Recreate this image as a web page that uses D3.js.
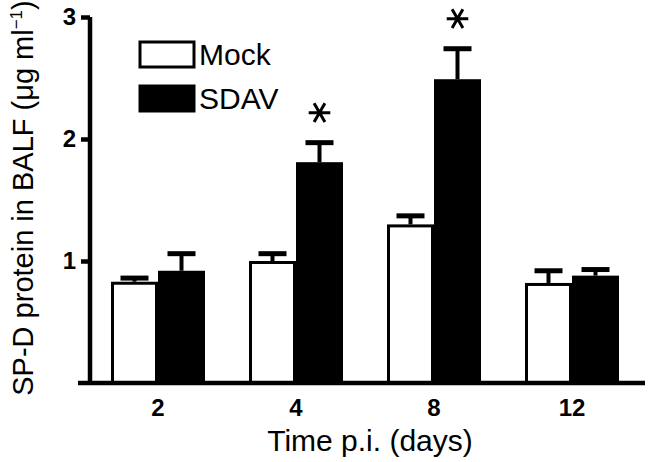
<!DOCTYPE html>
<meta charset="utf-8">
<style>
body { margin: 0; background: #fff; }
text { font-family: "Liberation Sans", Arial, sans-serif; fill: #000; }
</style>
<body>
<script src="https://cdn.jsdelivr.net/npm/d3@7"></script>
<script>
// data
var days = ["2", "4", "8", "12"];
var mock = [0.83, 1.00, 1.30, 0.82];
var mockErr = [0.03, 0.06, 0.07, 0.10];
var sdav = [0.92, 1.81, 2.49, 0.88];
var sdavErr = [0.14, 0.16, 0.25, 0.05];
var signif = [false, true, true, false];
var yTicks = [1, 2, 3];

var W = 650, H = 462;
var svg = d3.select("body").append("svg")
    .attr("width", W)
    .attr("height", H);

// scales
var x = d3.scaleBand().domain(days).range([89, 641]);
var y = d3.scaleLinear().domain([0, 3]).range([383, 17]);
var barW = 47;

var rows = [];
days.forEach(function(d, i) {
  rows.push({day: d, group: "mock", v: mock[i], e: mockErr[i], x0: x(d) + x.bandwidth() / 2 - barW});
  rows.push({day: d, group: "sdav", v: sdav[i], e: sdavErr[i], x0: x(d) + x.bandwidth() / 2, star: signif[i]});
});

// error bars (upper only)
var eb = svg.append("g").selectAll("g").data(rows).enter().append("g");
eb.append("line")
    .attr("x1", function(d) { return d.x0 + barW / 2; })
    .attr("x2", function(d) { return d.x0 + barW / 2; })
    .attr("y1", function(d) { return y(d.v); })
    .attr("y2", function(d) { return y(d.v + d.e); })
    .attr("stroke", "#000").attr("stroke-width", 4);
eb.append("line")
    .attr("x1", function(d) { return d.x0 + barW / 2 - 14; })
    .attr("x2", function(d) { return d.x0 + barW / 2 + 14; })
    .attr("y1", function(d) { return y(d.v + d.e); })
    .attr("y2", function(d) { return y(d.v + d.e); })
    .attr("stroke", "#000").attr("stroke-width", 5);

// bars
svg.append("g").selectAll("rect").data(rows).enter().append("rect")
    .attr("x", function(d) { return d.group == "mock" ? d.x0 + 1.5 : d.x0; })
    .attr("y", function(d) { return y(d.v) + (d.group == "mock" ? 1.5 : 0); })
    .attr("width", function(d) { return d.group == "mock" ? barW - 3 : barW; })
    .attr("height", function(d) { return y(0) - y(d.v) - (d.group == "mock" ? 1.5 : 0); })
    .attr("fill", function(d) { return d.group == "mock" ? "#fff" : "#000"; })
    .attr("stroke", "#000")
    .attr("stroke-width", function(d) { return d.group == "mock" ? 3 : 0; });

// asterisks
svg.append("g").selectAll("path").data(rows.filter(function(d) { return d.star; }))
  .enter().append("path")
    .attr("d", d3.symbol().type(d3.symbolAsterisk).size(330))
    .attr("transform", function(d) {
      return "translate(" + (d.x0 + barW / 2) + "," + (y(d.v + d.e) - 30) + ") rotate(90)";
    })
    .attr("fill", "none")
    .attr("stroke", "#000")
    .attr("stroke-width", 3);

// y axis
var yAxis = svg.append("g")
    .attr("transform", "translate(90,0)")
    .call(d3.axisLeft(y).tickValues(yTicks).tickFormat(d3.format("d")).tickSize(9).tickSizeOuter(0).tickPadding(5));
yAxis.select(".domain").attr("stroke-width", 4.5).attr("d", "M0," + y(3) + "V" + y(0));
yAxis.selectAll(".tick line").attr("stroke-width", 4.5);

// x axis
var xAxis = svg.append("g")
    .attr("transform", "translate(0," + y(0) + ")")
    .call(d3.axisBottom(x).tickSize(0).tickPadding(16));
xAxis.select(".domain").attr("stroke-width", 4.5).attr("d", "M78,0H645");

svg.selectAll(".tick text")
    .attr("font-family", "Liberation Sans, Arial, sans-serif")
    .style("font-size", "24px")
    .style("font-weight", "bold");

// axis titles
svg.append("text")
    .attr("x", 370).attr("y", 451)
    .attr("text-anchor", "middle")
    .style("font-size", "30px")
    .text("Time p.i. (days)");

var yl = svg.append("text")
    .attr("transform", "translate(33," + 198 + ") rotate(-90)")
    .attr("text-anchor", "middle")
    .style("font-size", "29px");
yl.append("tspan").text("SP-D protein in BALF (\u03bcg ml");
yl.append("tspan").attr("dy", -11).style("font-size", "17px").text("\u22121");
yl.append("tspan").attr("dy", 11).text(")");

// legend
var legend = [{name: "Mock", fill: "#fff", y: 54}, {name: "SDAV", fill: "#000", y: 98}];
var lg = svg.append("g").selectAll("g").data(legend).enter().append("g");
lg.append("rect")
    .attr("x", 140).attr("y", function(d) { return d.y - 12; })
    .attr("width", 54).attr("height", 25)
    .attr("fill", function(d) { return d.fill; })
    .attr("stroke", "#000").attr("stroke-width", 3);
lg.append("text")
    .attr("x", 199).attr("y", function(d) { return d.y + 11; })
    .style("font-size", "30px")
    .text(function(d) { return d.name; });
</script>
</body>
